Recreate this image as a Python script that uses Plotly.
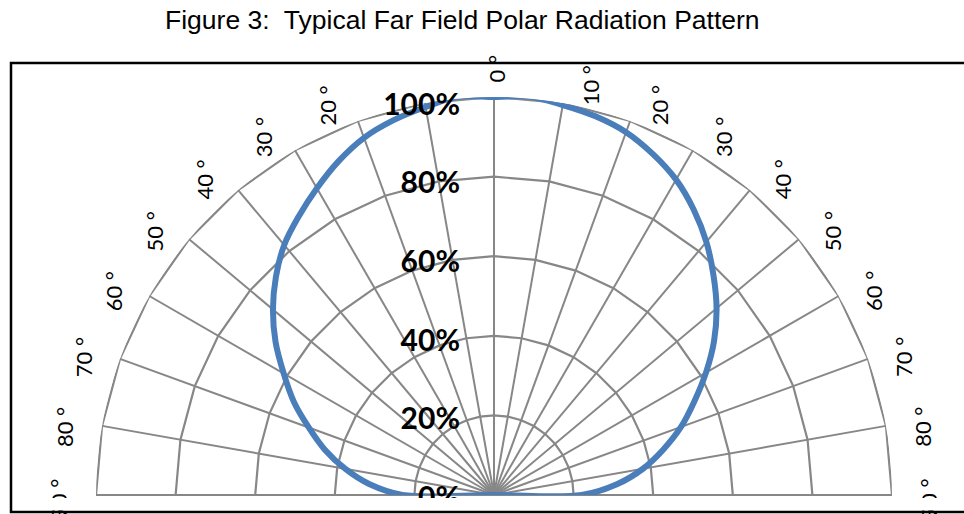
import plotly.graph_objects as go

# ---------------- data ----------------
title_text = "Figure 3:  Typical Far Field Polar Radiation Pattern"

# angular spokes / tick labels (degrees off axis, left side negative)
tick_angles = [-90, -80, -70, -60, -50, -40, -30, -20, -10, 0,
               10, 20, 30, 40, 50, 60, 70, 80, 90]
tick_labels = ["90 °", "80 °", "70 °", "60 °", "50 °", "40 °", "30 °", "20 °", "10 °", "0 °",
               "10 °", "20 °", "30 °", "40 °", "50 °", "60 °", "70 °", "80 °", "90 °"]
hidden_labels = [-10]          # covered by the 100% label in the original

# polygonal rings of the radar grid
ring_levels = [0.2, 0.4, 0.6, 0.8, 1.0]
radial_ticks = [0, 0.2, 0.4, 0.6, 0.8, 1.0]

# measured relative intensity, every 5 degrees
curve_angles = [-90, -85, -80, -75, -70, -65, -60, -55, -50, -45, -40, -35, -30, -25,
                -20, -15, -10, -5, 0, 5, 10, 15, 20, 25, 30, 35, 40, 45, 50, 55,
                60, 65, 70, 75, 80, 85, 90]
curve_values = [0.23, 0.315, 0.38, 0.44, 0.495, 0.555, 0.61, 0.67, 0.725, 0.775,
                0.82, 0.855, 0.89, 0.925, 0.955, 0.975, 0.99, 1.005, 1.0,
                1.005, 0.995, 0.985, 0.97, 0.945, 0.915, 0.875, 0.83, 0.78, 0.73,
                0.675, 0.615, 0.555, 0.50, 0.44, 0.38, 0.31, 0.22]

# ---------------- style ----------------
GRID = "#878787"
BLUE = "#4A7EBB"
W, HF = 964, 560          # figure taller than the 514 px window; bottom is off-screen
CX, CY, R = 494, 495, 398
LABEL_FONT = dict(family="Lato", size=22, color="black")


def dom(dx=0, dy=0, rad=R):
    cx, cy = CX + dx, CY + dy
    return dict(x=[(cx - rad) / W, (cx + rad) / W], y=[(HF - cy) / HF, (HF - cy + rad) / HF])


def labels_where(cond):
    return [t if cond(a) and a not in hidden_labels else ""
            for a, t in zip(tick_angles, tick_labels)]


def label_axis(texts, pad):
    return dict(type="linear", thetaunit="degrees", rotation=90, direction="clockwise",
                tickmode="array", tickvals=tick_angles, ticktext=texts,
                ticks="outside", ticklen=pad, tickcolor="rgba(0,0,0,0)",
                showline=False, showgrid=False, tickangle=-90, tickfont=LABEL_FONT)


fig = go.Figure()

for lvl in ring_levels:
    fig.add_trace(go.Scatterpolar(
        r=[lvl] * len(tick_angles), theta=tick_angles, mode="lines",
        line=dict(color=GRID, width=2.2), hoverinfo="skip", showlegend=False))

# curve closed to the centre at both ends (r = 0)
fig.add_trace(go.Scatterpolar(
    r=[0] + curve_values + [0],
    theta=[curve_angles[0]] + curve_angles + [curve_angles[-1]],
    mode="lines", line=dict(color=BLUE, width=6, shape="spline", smoothing=1.0),
    cliponaxis=False, showlegend=False))

# helper subplots that only carry tick labels
for sp in ["polar2", "polar3", "polar4"]:
    fig.add_trace(go.Scatterpolar(r=[0], theta=[0], mode="lines", subplot=sp,
                                  hoverinfo="skip", showlegend=False))

main_ang = label_axis(labels_where(lambda a: a == 0), 8)
main_ang.update(showgrid=True, gridcolor=GRID, gridwidth=2.2)

hidden_radial = dict(visible=False, range=[0, 1])

fig.update_layout(
    width=W, height=HF,
    margin=dict(l=0, r=0, t=0, b=0),
    paper_bgcolor="white", plot_bgcolor="white",
    showlegend=False,
    polar=dict(
        domain=dom(), sector=[0, 180], bgcolor="rgba(0,0,0,0)",
        angularaxis=main_ang,
        radialaxis=dict(range=[0, 1], showticklabels=False, ticks="",
                        showgrid=False, showline=False),
    ),
    polar2=dict(domain=dom(23, 27), sector=[0, 180], bgcolor="rgba(0,0,0,0)",
                angularaxis=label_axis(labels_where(lambda a: a > 0), 6),
                radialaxis=hidden_radial),
    polar3=dict(domain=dom(-29, -13), sector=[0, 180], bgcolor="rgba(0,0,0,0)",
                angularaxis=label_axis(labels_where(lambda a: a < 0), 6),
                radialaxis=hidden_radial),
    polar4=dict(
        domain=dom(0, 3, 393), sector=[0, 180], bgcolor="rgba(0,0,0,0)",
        angularaxis=dict(visible=False),
        radialaxis=dict(
            range=[0, 1], angle=90, side="counterclockwise",
            tickmode="array", tickvals=radial_ticks, tickformat=".0%",
            showgrid=False, showline=False,
            ticks="outside", ticklen=23, tickcolor="rgba(0,0,0,0)",
            tickangle=90,
            tickfont=dict(family="Lato", size=30, color="black", weight="bold"))),
    annotations=[dict(
        text=title_text, x=462 / W, y=1 - 20 / HF, xref="paper", yref="paper",
        xanchor="center", yanchor="middle", showarrow=False,
        font=dict(family="Liberation Sans", size=26.5, color="black"))],
    shapes=[
        dict(type="rect", xref="paper", yref="paper", layer="above",
             x0=12 / W, x1=963 / W, y0=(HF - 510.5) / HF, y1=(HF - 498) / HF,
             fillcolor="white", line=dict(width=0)),
        dict(type="rect", xref="paper", yref="paper", layer="above",
             x0=11 / W, x1=1.02, y0=(HF - 512) / HF, y1=(HF - 63) / HF,
             fillcolor="rgba(0,0,0,0)", line=dict(color="black", width=2.5)),
    ],
)

fig.write_html("out.html", config={"displayModeBar": False},
               post_script="document.body.style.margin='0px';")
